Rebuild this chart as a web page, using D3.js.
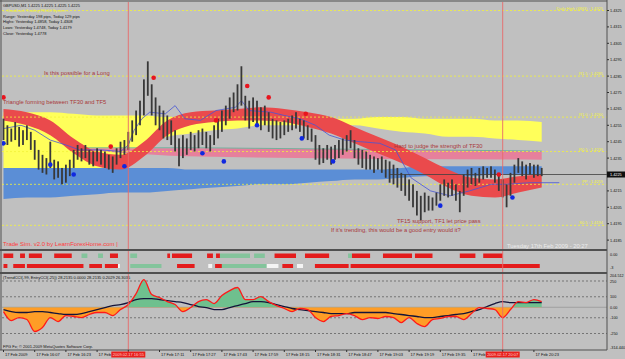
<!DOCTYPE html>
<html lang="en">
<head>
<meta charset="UTF-8"/>
<title>GBPUSD M1</title>
<script src="https://d3js.org/d3.v7.min.js"></script>
<style>
    body { margin: 0; background: #c0c0c0; }
    svg { display: block; }
    text { font-family: "Liberation Sans", Arial, sans-serif; }
</style>
</head>
<body>
<svg id="chart" width="625" height="359"></svg>
<script>
// ---- data (time = minutes after 17 Feb 2009 15:51) ----
// 2-minute price bars, pips above 1.4200
var barHigh = [59,55,53,57,54,52,55,51,46,40, 37,35,45,34,33,29,31,34,40,43, 41,43,40,39,41,40,39,37,36,41,
    45,46,51,58,64,70,83,94,80,72, 67,64,61,58,52,47,49,47,51,49, 52,53,51,49,55,59,64,67,72,75,
    80,91,73,70,72,70,66,67,63,59, 58,57,58,59,61,63,59,58,55,53, 49,43,41,43,42,43,46,47,49,52,
    46,41,40,39,37,36,35,36,34,33, 31,29,26,25,22,19,15,12,14,12, 11,14,19,22,20,22,19,15,25,28,
    29,26,29,30,29,30,28,25,22,19, 26,31,35,33,31,32,31,31,29];
var barLow = [46,43,45,46,42,43,46,40,34,28, 26,25,29,22,23,19,20,24,29,34, 33,35,31,30,33,31,29,28,26,31,
    35,37,40,45,49,55,61,73,61,55, 52,47,46,43,39,30,35,37,40,39, 41,43,41,39,43,47,51,55,59,63,
    64,67,58,53,57,55,52,55,51,47, 46,47,49,51,52,53,51,47,46,45, 34,31,32,34,31,34,35,37,39,41,
    35,31,29,28,28,26,28,26,23,20, 19,17,15,12,9,5,0,-3,2,3, 3,6,9,12,11,12,9,2,12,17,
    19,18,20,22,23,23,20,15,11,5, 12,20,26,24,22,25,23,24,24];

// band samples every 12 minutes
var bandMin = [0,12,24,36,48,60,72,84,96,108,120,132,144,156,168,180,192,204,216,228,240,252,264,276];
var yellowTop = [1.4263,1.4263,1.4263,1.4262,1.4261,1.4261,1.4261,1.4260,1.4260,1.4260,1.4260,1.4260,
    1.4259,1.4259,1.4259,1.4259,1.4260,1.4260,1.4259,1.4259,1.4259,1.4258,1.4258,1.4257];
var yellowBot = [1.4229,1.4229,1.4229,1.4229,1.4229,1.4231,1.4243,1.4248,1.4250,1.4252,1.4253,1.4255,
    1.4255,1.4255,1.4255,1.4255,1.4253,1.4251,1.4250,1.4248,1.4248,1.4247,1.4246,1.4245];
var blueTop = [1.4229,1.4229,1.4229,1.4229,1.4229,1.4229,1.4229,1.4229,1.4228,1.4228,1.4228,1.4228,
    1.4228,1.4228,1.4228,1.4228,1.4228,1.4229,1.4230,1.4230,1.4230,1.4230,1.4230,1.4230];
var blueBot = [1.4210,1.4211,1.4211,1.4212,1.4213,1.4214,1.4214,1.4215,1.4216,1.4217,1.4218,1.4219,
    1.4219,1.4220,1.4221,1.4222,1.4222,1.4223,1.4224,1.4224,1.4224,1.4225,1.4225,1.4225];
var redTop = [1.4265,1.4263,1.4258,1.4247,1.4239,1.4237,1.4245,1.4258,1.4263,1.4264,1.4265,1.4266,
    1.4265,1.4263,1.4260,1.4254,1.4248,1.4242,1.4235,1.4228,1.4223,1.4222,1.4224,1.4225];
var redBot = [1.4258,1.4255,1.4249,1.4238,1.4230,1.4228,1.4236,1.4249,1.4255,1.4257,1.4258,1.4258,
    1.4257,1.4254,1.4250,1.4244,1.4238,1.4232,1.4225,1.4217,1.4212,1.4211,1.4214,1.4217];
var pinkMin = [42, 100, 276];
var pinkTop = [1.4241, 1.4241, 1.4239];
var pinkBot = [1.4240, 1.4236, 1.4234];

// thin blue line
var tfMin = [0,9,16,24,32,39,50,60,64,67,71,75,83,88,93,101,109,119,122,126,137,144,152,160,167,175,183,193,201,209,219,229,239,250,257,270,285];
var tfPrice = [1.4253,1.4255,1.4252,1.4246,1.4243,1.4240,1.4240,1.4239,1.4243,1.4252,1.4259,1.4263,1.4262,1.4267,1.4259,1.4258,
    1.4264,1.4266,1.4270,1.4264,1.4263,1.4261,1.4259,1.4255,1.4249,1.4246,1.4245,1.4244,1.4240,1.4223,1.4215,1.4212,1.4215,
    1.4219,1.4219,1.4220,1.4220];

// signal dots
var redDotMin = [0, 55, 77, 109, 125, 136, 155, 254];
var redDotPrice = [1.4272, 1.4242, 1.4284, 1.4258, 1.4279, 1.4272, 1.4262, 1.4225];
var blueDotMin = [0, 24, 36, 62, 102, 113, 130, 153, 169, 224, 261];
var blueDotPrice = [1.4244, 1.4231, 1.4225, 1.4230, 1.4238, 1.4233, 1.4255, 1.4247, 1.4233, 1.4206, 1.4211];

// pivot levels
var levelPrice = [1.4325, 1.4285, 1.4260, 1.4239, 1.4219, 1.4194];
var levelLabel = ["Daily High (4863) : 1.4325", "R1.5 : 1.4285", "R1.0 : 1.4260", "R0.5 : 1.4239", "PP : 1.4219", "S0.5 : 1.4194"];
var priceTicks = [1.4325,1.4315,1.4305,1.4295,1.4285,1.4275,1.4265,1.4255,1.4245,1.4235,1.4215,1.4205,1.4195,1.4185];
var lastPrice = 1.4225;

// signal rows [start, end, colour]
var sigRow1 = [[0,5,"r"],[8.5,11,"r"],[13,19.7,"r"],[26,35,"r"],[40,43,"g"],[48.5,51,"g"],[54.6,58.7,"r"],[65,68.5,"g"],
    [84,85.4,"r"],[86.4,96.7,"r"],[104.4,107.4,"r"],[109,111,"r"],[111,126.4,"g"],[128.5,134,"g"],[139,150,"r"],
    [154.6,167,"r"],[176.7,178.7,"g"],[178.7,188,"r"],[194.6,209.5,"r"],[211,220,"r"],[234,242,"r"],[246,256,"r"]];
var sigRow2 = [[0,2,"r"],[5,11,"r"],[12,41,"r"],[44,50.5,"r"],[52,58.7,"r"],[58.7,59.7,"w"],[65,81,"g"],[89,98,"r"],
    [105,107,"w"],[108.5,112,"r"],[112,135,"g"],[135,141,"w"],[143,148.5,"r"],[150.5,153.6,"w"],[159.7,177,"r"],[178,275,"r"]];

// CCI, every 4 minutes
var cciEntry = [-41,-127,-98,-117,-231,-193,-98,-136,-79,-88,-98,-69,-50,-50,-79,-22,26,130,264,121,92,54,26,-41,-3,
    54,73,35,111,159,188,73,73,102,54,16,-12,-41,-12,-22,-98,-136,-88,-79,-60,-79,-117,-98,-107,-88,-98,-146,-98,-155,
    -184,-117,-107,-88,-88,-117,-60,-3,-12,-22,-98,-22,54,45,73,54];
var cciTrend = [-22,-41,-50,-50,-41,-41,-50,-60,-69,-69,-60,-41,-22,-3,16,26,45,73,83,83,73,64,54,45,26,7,-3,-22,-22,
    -3,16,35,54,54,45,26,7,-12,-22,-31,-41,-50,-60,-60,-60,-50,-50,-50,-50,-50,-60,-69,-79,-88,-98,-98,-88,-79,-69,
    -60,-41,-22,7,35,54,45,45,45,45,45];
var cciLevels = [250, 100, 0, -100, -250];

// time axis (labels at cursor times are replaced by the cursor boxes)
var timeTickMin = [0,16,32,48,80,96,112,128,144,160,176,192,208,224,240,272];
var timeTickLabel = ["17 Feb 2009","17 Feb 16:07","17 Feb 16:23","17 Feb 16:39","17 Feb 17:11",
    "17 Feb 17:27","17 Feb 17:43","17 Feb 17:59","17 Feb 18:15","17 Feb 18:31","17 Feb 18:47","17 Feb 19:03",
    "17 Feb 19:19","17 Feb 19:35","17 Feb 19:51","17 Feb 20:23"];
var cursorMin = [64, 256];
var cursorLabel = ["2009.02.17 16:55", "2009.02.17 20:07"];

// ---- drawing ----
var svg = d3.select("#chart");
var pip = function (p) { return 1.42 + p / 10000; };

var x = d3.scaleLinear().domain([0, 276]).range([3.5, 541.7]);
var y = d3.scaleLinear().domain([1.4185, 1.4325]).range([240.1, 10.5]);
var yc = d3.scaleLinear().domain([-250, 250]).range([333.5, 281]);

var defs = svg.append("defs");
defs.append("clipPath").attr("id", "mainClip").append("rect")
    .attr("x", 2).attr("y", 2).attr("width", 605).attr("height", 247);
defs.append("clipPath").attr("id", "abovZero").append("rect")
    .attr("x", 0).attr("y", 274).attr("width", 607).attr("height", yc(0) - 274);
defs.append("clipPath").attr("id", "belowZero").append("rect")
    .attr("x", 0).attr("y", yc(0)).attr("width", 607).attr("height", 349 - yc(0));

svg.append("rect").attr("width", 625).attr("height", 359).attr("fill", "#c0c0c0");

var main = svg.append("g").attr("clip-path", "url(#mainClip)");

function band(tArr, top, bot, fill) {
    var a = d3.area()
        .x(function (d, i) { return x(tArr[i]); })
        .y0(function (d, i) { return y(bot[i]); })
        .y1(function (d, i) { return y(top[i]); })
        .curve(d3.curveMonotoneX);
    main.append("path").attr("d", a(top)).attr("fill", fill);
}
band(bandMin, yellowTop, yellowBot, "#ffff5a");
band(bandMin, blueTop, blueBot, "#5b8ed6");
band(pinkMin, pinkTop, pinkBot, "#e6809c");
main.append("path")
    .attr("d", d3.line().x(function (d, i) { return x(pinkMin[i]); }).y(function (d) { return y(d) - 0.5; })(pinkTop))
    .attr("fill", "none").attr("stroke", "#5fae95").attr("stroke-width", 0.8);
band(bandMin, redTop, redBot, "#ea4a4c");

// pivot levels
levelPrice.forEach(function (p, i) {
    main.append("line").attr("x1", 2).attr("x2", 607).attr("y1", y(p)).attr("y2", y(p))
        .attr("stroke", "#f2f23a").attr("stroke-width", 0.8).attr("stroke-dasharray", "2,2");
    main.append("text").attr("x", 603).attr("y", y(p) - 1).attr("text-anchor", "end")
        .attr("font-size", 4).attr("fill", "#f4f43c").text(levelLabel[i]);
});

// thin blue line
main.append("path")
    .attr("d", d3.line().x(function (d, i) { return x(tfMin[i]); }).y(function (d) { return y(d); })(tfPrice))
    .attr("fill", "none").attr("stroke", "#4656d6").attr("stroke-width", 0.8);

// bid line
main.append("line").attr("x1", 390).attr("x2", 607).attr("y1", y(lastPrice)).attr("y2", y(lastPrice))
    .attr("stroke", "#404040").attr("stroke-width", 0.8);

// bars
main.selectAll("rect.bar").data(barHigh).enter().append("rect").attr("class", "bar")
    .attr("x", function (d, i) { return x(i * 2) - 0.9; })
    .attr("width", 1.8)
    .attr("y", function (d) { return y(pip(d)); })
    .attr("height", function (d, i) { return y(pip(barLow[i])) - y(pip(d)); })
    .attr("fill", "#383838");

// dots
main.selectAll("circle.rd").data(redDotMin).enter().append("circle")
    .attr("cx", function (d) { return x(d); }).attr("cy", function (d, i) { return y(redDotPrice[i]); })
    .attr("r", 2.3).attr("fill", "#e8141e");
main.selectAll("circle.bd").data(blueDotMin).enter().append("circle")
    .attr("cx", function (d) { return x(d); }).attr("cy", function (d, i) { return y(blueDotPrice[i]); })
    .attr("r", 2.3).attr("fill", "#1028e0");

// notes
function note(tx, ty, s, col, size) {
    main.append("text").attr("x", tx).attr("y", ty).attr("font-size", size).attr("fill", col).text(s);
}
note(44, 75, "Is this possible for a Long", "#a8383a", 5.8);
note(3, 104, "Triangle forming between TF30 and TF5", "#a8383a", 5.8);
note(394, 147.5, "Hard to judge the strength of TF30", "#a8383a", 5.8);
note(397, 223, "TF15 support, TF1 let price pass", "#a8383a", 5.8);
note(331, 232, "If it's trending, this would be a good entry would it?", "#a8383a", 5.8);
note(3, 246, "Trade Sim. v2.0 by LearnForexHome.com |", "#ff3b3b", 6);
note(507, 247.5, "Tuesday 17th Feb 2009 - 20:27", "#ececec", 5.8);

var info = ["GBPUSD,M1  1.4225 1.4225 1.4225 1.4225", "-- GoodLuck Trading FB-60 System --",
    "Range: Yesterday 198 pips, Today 129 pips", "Highs: Yesterday 1.4858, Today 1.4308",
    "Lows: Yesterday 1.4748, Today 1.4179", "Close: Yesterday 1.4778"];
info.forEach(function (s, i) {
    note(3, 6.5 + i * 5.6, s, i === 1 ? "#f0f038" : "#101010", 4);
});

// ---- signal panel ----
var sig = svg.append("g");
var sigCol = {r: "#e41c1c", g: "#84c49c", w: "#f4f4f4"};
sig.selectAll("rect.s1").data(sigRow1).enter().append("rect")
    .attr("x", function (d) { return x(d[0]); }).attr("width", function (d) { return x(d[1]) - x(d[0]); })
    .attr("y", 253.5).attr("height", 4.5).attr("fill", function (d) { return sigCol[d[2]]; });
sig.selectAll("rect.s2").data(sigRow2).enter().append("rect")
    .attr("x", function (d) { return x(d[0]); }).attr("width", function (d) { return x(d[1]) - x(d[0]); })
    .attr("y", 264).attr("height", 4).attr("fill", function (d) { return sigCol[d[2]]; });

// ---- CCI panel ----
var cci = svg.append("g");
var cciX = function (d, i) { return x(i * 4); };
cciLevels.forEach(function (v) {
    cci.append("line").attr("x1", 2).attr("x2", 607).attr("y1", yc(v)).attr("y2", yc(v))
        .attr("stroke", v === 0 ? "#909090" : "#555").attr("stroke-width", 0.7)
        .attr("stroke-dasharray", v === 0 ? null : "2,2");
});
var cciArea = d3.area().x(cciX).y0(yc(0)).y1(function (d) { return yc(d); }).curve(d3.curveMonotoneX);
cci.append("path").attr("d", cciArea(cciEntry)).attr("fill", "#6fc08e").attr("clip-path", "url(#abovZero)");
cci.append("path").attr("d", cciArea(cciEntry)).attr("fill", "#ff9d26").attr("clip-path", "url(#belowZero)");
cci.append("path").attr("d", d3.line().x(cciX).y(function (d) { return yc(d); }).curve(d3.curveMonotoneX)(cciTrend))
    .attr("fill", "none").attr("stroke", "#14143a").attr("stroke-width", 1.3);
cci.append("path").attr("d", d3.line().x(cciX).y(function (d) { return yc(d); }).curve(d3.curveMonotoneX)(cciEntry))
    .attr("fill", "none").attr("stroke", "#ff1a1a").attr("stroke-width", 1.3);
cci.append("text").attr("x", 3).attr("y", 278.5).attr("font-size", 4).attr("fill", "#101010")
    .text("(TrendCCI(-99, EntryCCI(-25)) 28.2135 0.0000 28.2135 0.2029 26.3035");
cci.append("text").attr("x", 3).attr("y", 347.5).attr("font-size", 4).attr("fill", "#101010")
    .text("FPG Fx; © 2001-2009 MetaQuotes Software Corp.");

// cursor lines
cursorMin.forEach(function (m) {
    svg.append("line").attr("x1", x(m)).attr("x2", x(m)).attr("y1", 2).attr("y2", 350)
        .attr("stroke", "#e86a6a").attr("stroke-width", 0.9);
});

// frames
svg.append("line").attr("x1", 0).attr("x2", 607).attr("y1", 1).attr("y2", 1).attr("stroke", "#505050");
svg.append("line").attr("x1", 1).attr("x2", 1).attr("y1", 0).attr("y2", 350).attr("stroke", "#505050");
svg.append("line").attr("x1", 0).attr("x2", 607).attr("y1", 250).attr("y2", 250).attr("stroke", "#505050").attr("stroke-width", 2);
svg.append("line").attr("x1", 0).attr("x2", 607).attr("y1", 273).attr("y2", 273).attr("stroke", "#505050").attr("stroke-width", 2);
svg.append("line").attr("x1", 0).attr("x2", 607).attr("y1", 350).attr("y2", 350).attr("stroke", "#505050");
svg.append("line").attr("x1", 607).attr("x2", 607).attr("y1", 0).attr("y2", 350).attr("stroke", "#505050");

// price axis
var pa = svg.append("g");
priceTicks.forEach(function (p) {
    pa.append("line").attr("x1", 607).attr("x2", 609).attr("y1", y(p)).attr("y2", y(p)).attr("stroke", "#303030");
    pa.append("text").attr("x", 610).attr("y", y(p) + 1.4).attr("font-size", 3.8).attr("fill", "#101010")
        .text(p.toFixed(4));
});
pa.append("rect").attr("x", 607).attr("y", y(lastPrice) - 3).attr("width", 18).attr("height", 6).attr("fill", "#101010");
pa.append("text").attr("x", 610).attr("y", y(lastPrice) + 1.4).attr("font-size", 3.8).attr("fill", "#ffffff")
    .text(lastPrice.toFixed(4));
[[255, "0.00"], [268, "-3"]].forEach(function (d) {
    pa.append("text").attr("x", 610).attr("y", d[0] + 1.4).attr("font-size", 3.8).attr("fill", "#101010").text(d[1]);
});
cciLevels.forEach(function (v) {
    if (v === 250 || v === -250) return;
    pa.append("text").attr("x", 610).attr("y", yc(v) + 1.4).attr("font-size", 3.8).attr("fill", "#101010")
        .text(v === 0 ? "0.00" : v);
});
pa.append("text").attr("x", 610).attr("y", 277).attr("font-size", 3.8).attr("fill", "#101010").text("204.512");
pa.append("text").attr("x", 610).attr("y", 283).attr("font-size", 3.8).attr("fill", "#101010").text("250");
pa.append("text").attr("x", 610).attr("y", 335).attr("font-size", 3.8).attr("fill", "#101010").text("-250");
pa.append("text").attr("x", 610).attr("y", 348.5).attr("font-size", 3.8).attr("fill", "#101010").text("-314.440");

// time axis
var ta = svg.append("g");
timeTickMin.concat(cursorMin).forEach(function (m) {
    ta.append("line").attr("x1", x(m)).attr("x2", x(m)).attr("y1", 350).attr("y2", 352).attr("stroke", "#303030");
});
timeTickMin.forEach(function (m, i) {
    var t = ta.append("text").attr("x", x(m) + 1.5).attr("y", 356).attr("font-size", 4).attr("fill", "#101010")
        .text(timeTickLabel[i]);
    cursorMin.forEach(function (c) {
        if (c > m && c - m < 20) t.text("17 Feb");
    });
});
cursorMin.forEach(function (m, i) {
    ta.append("rect").attr("x", x(m) - 17).attr("y", 351.5).attr("width", 34).attr("height", 6).attr("fill", "#e8201c");
    ta.append("text").attr("x", x(m)).attr("y", 356).attr("text-anchor", "middle").attr("font-size", 4)
        .attr("fill", "#ffd0d0").text(cursorLabel[i]);
});
</script>
</body>
</html>
